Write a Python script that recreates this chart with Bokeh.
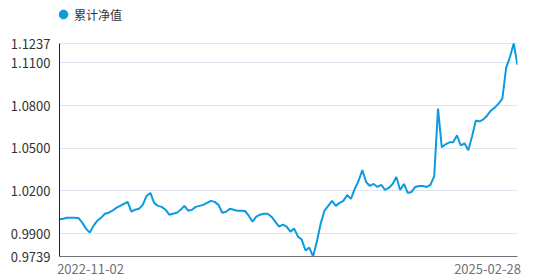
from bokeh.plotting import figure
from bokeh.models import (Range1d, FixedTicker, Legend, LegendItem,
                          ColumnDataSource, CustomJSTickFormatter)
from bokeh.embed import file_html
from bokeh.resources import INLINE

series_name = "累计净值"
start_date = "2022-11-02"
end_date = "2025-02-28"

nav = [
    1.0001, 1.0005, 1.0012, 1.0012, 1.0012, 1.0010, 0.9977, 0.9935, 0.9907, 0.9956,
    0.9991, 1.0012, 1.0040, 1.0047, 1.0061, 1.0081, 1.0095, 1.0109, 1.0123, 1.0054,
    1.0068, 1.0075, 1.0102, 1.0165, 1.0186, 1.0116, 1.0095, 1.0088, 1.0068, 1.0033,
    1.0040, 1.0047, 1.0068, 1.0095, 1.0061, 1.0068, 1.0088, 1.0095, 1.0102, 1.0116,
    1.0130, 1.0123, 1.0102, 1.0047, 1.0054, 1.0075, 1.0068, 1.0061, 1.0061, 1.0059,
    1.0026, 0.9984, 1.0019, 1.0033, 1.0040, 1.0040, 1.0019, 0.9984, 0.9949, 0.9963,
    0.9949, 0.9914, 0.9935, 0.9879, 0.9858, 0.9781, 0.9802, 0.9739, 0.9844, 0.9970,
    1.0061, 1.0095, 1.0130, 1.0095, 1.0116, 1.0130, 1.0172, 1.0144, 1.0214, 1.0270,
    1.0347, 1.0263, 1.0235, 1.0249, 1.0228, 1.0242, 1.0207, 1.0221, 1.0249, 1.0298,
    1.0207, 1.0249, 1.0186, 1.0193, 1.0228, 1.0235, 1.0235, 1.0228, 1.0242, 1.0305,
    1.0779, 1.0507, 1.0528, 1.0542, 1.0542, 1.0591, 1.0521, 1.0535, 1.0486, 1.0584,
    1.0696, 1.0689, 1.0703, 1.0731, 1.0766, 1.0786, 1.0814, 1.0849, 1.1066, 1.1142,
    1.1237, 1.1087,
]
y_ticks = [0.9739, 0.9900, 1.0200, 1.0500, 1.0800, 1.1100, 1.1237]

idx = list(range(len(nav)))
y_min = min(nav)
y_max = max(nav)

FONT = "Noto Sans CJK SC"
LINE_COLOR = "#0d9be0"

W, H = 552, 279
LEFT, RIGHT, BOTTOM = 59, 35, 23
DATA_TOP = 43                       # pixel row of the top of the value scale
frame_w = W - LEFT - RIGHT
frame_h = H - BOTTOM                # frame reaches the top so the legend fits inside it
n_last = len(nav) - 1
units_per_px = n_last / frame_w
y_span = (y_max - y_min) * frame_h / (frame_h - DATA_TOP)

p = figure(width=W, height=H, output_backend="svg", toolbar_location=None,
           x_range=Range1d(0, n_last), y_range=Range1d(y_min, y_min + y_span))
p.min_border_left = LEFT
p.min_border_right = RIGHT
p.min_border_top = 0
p.min_border_bottom = BOTTOM
p.outline_line_color = None
p.background_fill_color = "white"
p.border_fill_color = "white"

src = ColumnDataSource(dict(x=idx, y=nav))
line_r = p.line("x", "y", source=src, line_color=LINE_COLOR, line_width=2)
# legend-only marker (a single NaN point draws nothing on the plot)
dot_r = p.scatter(x=[float("nan")], y=[float("nan")], marker="circle",
                  fill_color=LINE_COLOR, line_color=LINE_COLOR)

# y axis
yax = p.yaxis[0]
yax.bounds = (y_min, y_max)
yax.ticker = FixedTicker(ticks=y_ticks)
yax.formatter = CustomJSTickFormatter(code="return tick.toFixed(4);")
yax.major_tick_line_color = None
yax.minor_tick_line_color = None
yax.axis_line_color = "#222222"
yax.axis_line_width = 1
yax.major_label_text_font = FONT
yax.major_label_text_font_size = "13px"
yax.major_label_text_color = "#333333"
yax.major_label_standoff = 3

# x axis: first / last date labels, placed so they sit flush with the frame ends
label_half_px = 33
x_first = (label_half_px - 2) * units_per_px
x_last = n_last - (label_half_px - 3) * units_per_px
mid = n_last / 2
xax = p.xaxis[0]
xax.ticker = FixedTicker(ticks=[x_first, x_last])
xax.formatter = CustomJSTickFormatter(
    args=dict(a=start_date, b=end_date, mid=mid),
    code="return tick < mid ? a : b;")
xax.major_tick_line_color = None
xax.minor_tick_line_color = None
xax.axis_line_color = "#6E7079"
xax.major_label_text_font = FONT
xax.major_label_text_font_size = "13px"
xax.major_label_text_color = "#6E7079"
xax.major_label_standoff = 1

p.xgrid.grid_line_color = None
p.ygrid.ticker = FixedTicker(ticks=y_ticks[1:])
p.ygrid.grid_line_color = "#E0E6F1"
p.ygrid.grid_line_width = 1

legend = Legend(items=[LegendItem(label=series_name, renderers=[dot_r], index=0)],
                location=(-7, frame_h - 25), orientation="horizontal",
                glyph_width=22, glyph_height=22, label_standoff=-5,
                padding=0, margin=0, spacing=0,
                border_line_color=None, background_fill_alpha=0,
                label_text_font=FONT, label_text_font_size="12px",
                label_text_color="#333333", label_height=22)
p.add_layout(legend, "center")

open("out.html", "w").write(file_html(p, INLINE))
